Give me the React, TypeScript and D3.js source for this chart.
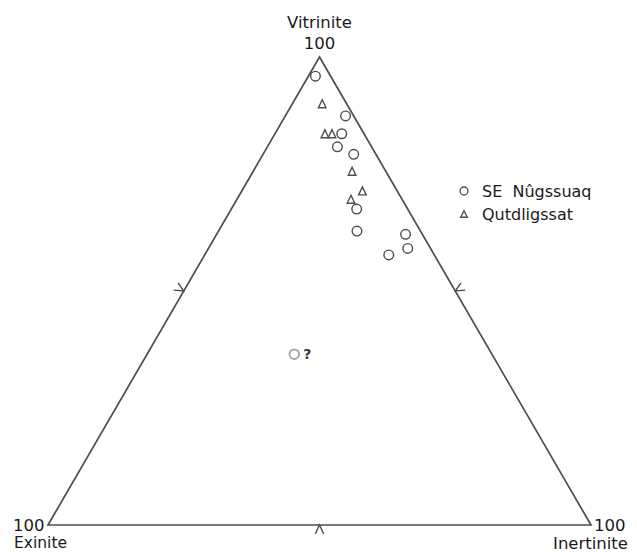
import React from "react";
import * as d3 from "d3";

// Ternary data (percent): Vitrinite (top), Exinite (bottom-left), Inertinite (bottom-right)
const seriesNames = ["SE  Nûgssuaq", "Qutdligssat"];

const nugssuaqVitrinite = [95.9, 87.4, 83.6, 80.8, 79.2, 67.5, 62.8, 62.1, 59.1, 57.7];
const nugssuaqInertinite = [1.3, 11.1, 12.3, 12.9, 16.7, 23.1, 25.5, 34.8, 36.7, 33.9];
const nugssuaqExinite = [2.8, 1.5, 4.1, 6.3, 4.1, 9.4, 11.7, 3.1, 4.2, 8.4];

const qutdVitrinite = [90.0, 83.6, 83.6, 75.6, 71.4, 69.6];
const qutdInertinite = [5.5, 9.2, 10.5, 18.2, 22.2, 21.0];
const qutdExinite = [4.5, 7.2, 5.9, 6.2, 6.4, 9.4];

const uncertainVitrinite = [36.5];
const uncertainInertinite = [27.1];
const uncertainExinite = [36.4];

const axisLabels = ["Vitrinite", "Exinite", "Inertinite"];
const vertexValue = "100";
const midTicks = [50];

const W = 637;
const H = 552;
const LINE = "#4d4d4d";
const TEXT = "#1a1a1a";
const FONT = "'DejaVu Sans', sans-serif";

// base scale along the bottom (Exinite->Inertinite), vertical scale for Vitrinite
const xScale = d3.scaleLinear().domain([0, 100]).range([48, 591]);
const yScale = d3.scaleLinear().domain([0, 100]).range([525, 57]);

function project(v: number, i: number, _e: number): [number, number] {
  return [xScale(i + v / 2), yScale(v)];
}

function triPath(cx: number, cy: number, hw: number, h: number) {
  const p = d3.path();
  p.moveTo(cx, cy - h / 2);
  p.lineTo(cx + hw, cy + h / 2);
  p.lineTo(cx - hw, cy + h / 2);
  p.closePath();
  return p.toString();
}

export default function App() {
  const top = project(100, 0, 0);
  const left = project(0, 0, 100);
  const right = project(0, 100, 0);
  const outline = d3.line()([top, right, left]) + "Z";

  const chevrons: string[] = [];
  const edges: [[number, number], [number, number]][] = [
    [left, top],
    [top, right],
    [right, left],
  ];
  const centroid: [number, number] = [
    (top[0] + left[0] + right[0]) / 3,
    (top[1] + left[1] + right[1]) / 3,
  ];
  edges.forEach(([a, b]) => {
    midTicks.forEach((t) => {
      const f = t / 100;
      const mx = a[0] + (b[0] - a[0]) * f;
      const my = a[1] + (b[1] - a[1]) * f;
      const nx = mx - centroid[0];
      const ny = my - centroid[1];
      const ex = b[0] - a[0];
      const ey = b[1] - a[1];
      let px = -ey, py = ex;
      if (px * nx + py * ny < 0) { px = -px; py = -py; }
      const na = Math.atan2(py, px);
      const len = 10;
      const da = (25 * Math.PI) / 180;
      const p = d3.path();
      p.moveTo(mx + len * Math.cos(na - da), my + len * Math.sin(na - da));
      p.lineTo(mx, my);
      p.lineTo(mx + len * Math.cos(na + da), my + len * Math.sin(na + da));
      chevrons.push(p.toString());
    });
  });

  const circles = nugssuaqVitrinite.map((v, k) =>
    project(v, nugssuaqInertinite[k], nugssuaqExinite[k])
  );
  const tris = qutdVitrinite.map((v, k) =>
    project(v, qutdInertinite[k], qutdExinite[k])
  );
  const unc = uncertainVitrinite.map((v, k) =>
    project(v, uncertainInertinite[k], uncertainExinite[k])
  );

  return (
    <svg
      width={W}
      height={H}
      style={{ position: "absolute", left: 0, top: 0, background: "#fff" }}
      fontFamily={FONT}
    >
      <rect width={W} height={H} fill="#fff" />
      <path d={outline} fill="none" stroke={LINE} strokeWidth={1.7} strokeLinejoin="miter" />
      {chevrons.map((d, k) => (
        <path key={k} d={d} fill="none" stroke={LINE} strokeWidth={1.4} />
      ))}

      {/* vertex labels */}
      <text x={top[0]} y={28} textAnchor="middle" fontSize={16.5} fill={TEXT}>
        {axisLabels[0]}
      </text>
      <text x={top[0]} y={49} textAnchor="middle" fontSize={16.5} fill={TEXT}>
        {vertexValue}
      </text>
      <text x={13} y={531} fontSize={16.5} fill={TEXT}>
        {vertexValue}
      </text>
      <text x={14} y={548} fontSize={15.5} fill={TEXT}>
        {axisLabels[1]}
      </text>
      <text x={594} y={531} fontSize={16.5} fill={TEXT}>
        {vertexValue}
      </text>
      <text x={628} y={549} textAnchor="end" fontSize={16.5} fill={TEXT}>
        {axisLabels[2]}
      </text>

      {/* data */}
      {circles.map(([x, y], k) => (
        <circle key={"c" + k} cx={x} cy={y} r={4.8} fill="none" stroke={LINE} strokeWidth={1.4} />
      ))}
      {tris.map(([x, y], k) => (
        <path key={"t" + k} d={triPath(x, y, 3.8, 8)} fill="none" stroke={LINE} strokeWidth={1.4} />
      ))}
      {unc.map(([x, y], k) => (
        <g key={"u" + k}>
          <circle cx={x} cy={y} r={4.8} fill="none" stroke="#a8a8a8" strokeWidth={2} />
          <text x={x + 9} y={y + 5} fontSize={14} fontWeight="bold" fill="#333">?</text>
        </g>
      ))}

      {/* legend */}
      <circle cx={464} cy={191} r={4} fill="none" stroke={LINE} strokeWidth={1.3} />
      <text x={482} y={197} fontSize={16} fill={TEXT} style={{ whiteSpace: "pre" }}>
        {seriesNames[0]}
      </text>
      <path d={triPath(464, 214, 3.3, 6.5)} fill="none" stroke={LINE} strokeWidth={1.4} />
      <text x={482} y={220} fontSize={16} fill={TEXT}>
        {seriesNames[1]}
      </text>
    </svg>
  );
}
